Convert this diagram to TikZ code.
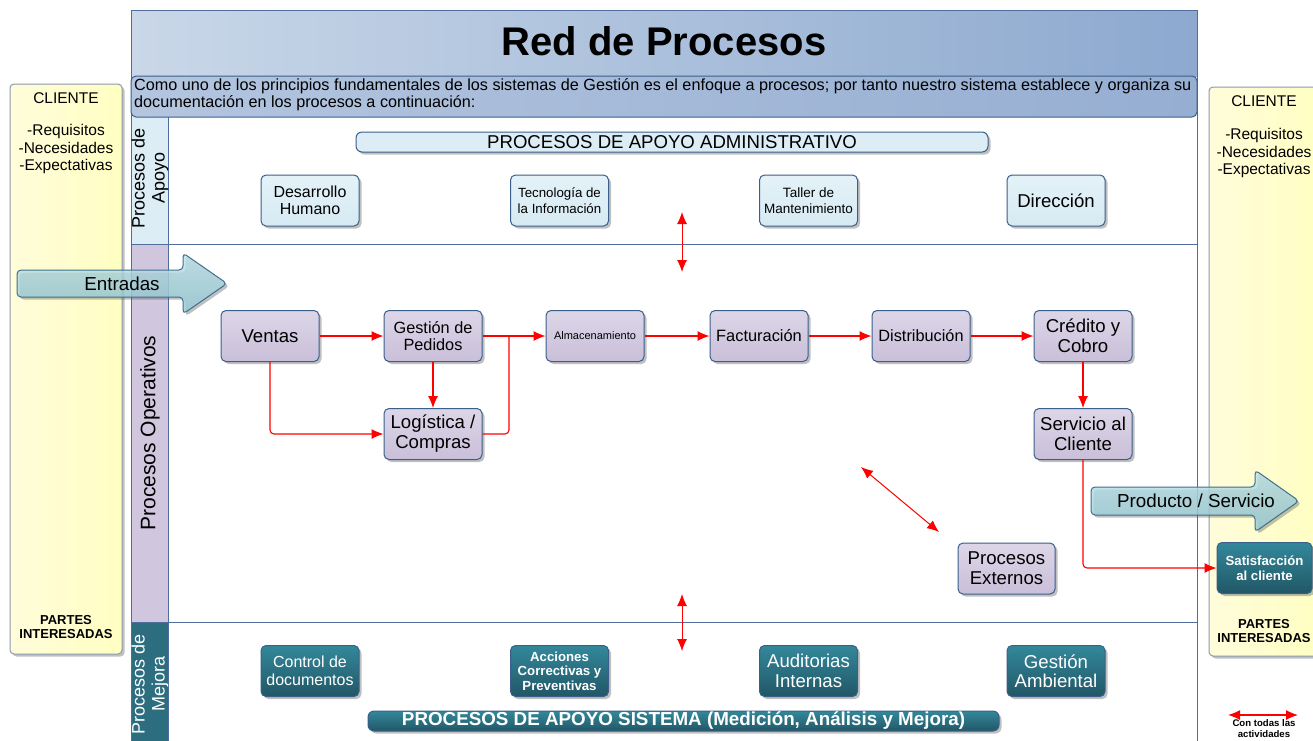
\documentclass[tikz,border=0pt]{standalone}
\usepackage{fontspec}
\setmainfont{Liberation Sans}
\usetikzlibrary{arrows.meta,shadows}

\definecolor{bordc}{HTML}{3A5F8B}
\definecolor{framec}{HTML}{4F6E9C}
\definecolor{titleL}{HTML}{C9D7E8}
\definecolor{titleR}{HTML}{8DA9CF}
\definecolor{descL}{HTML}{B3C5DF}
\definecolor{descR}{HTML}{96AED2}
\definecolor{apBand}{HTML}{DCEDF5}
\definecolor{apTop}{HTML}{E4F2F8}
\definecolor{apBot}{HTML}{D6EAF3}
\definecolor{opBand}{HTML}{D0C7DE}
\definecolor{opTop}{HTML}{DDD6E8}
\definecolor{opBot}{HTML}{C9BFD9}
\definecolor{mjBand}{HTML}{2C6E7F}
\definecolor{mjTop}{HTML}{33889B}
\definecolor{mjBot}{HTML}{215766}
\definecolor{yelL}{HTML}{FFFCDA}
\definecolor{yelR}{HTML}{FFFFC2}
\definecolor{yelB}{HTML}{8C9AAE}
\definecolor{arTop}{HTML}{BEE3EA}
\definecolor{arBot}{HTML}{93C9D5}
\definecolor{arB}{HTML}{3F6F8C}

\newcommand\fsz[2]{\fontsize{#1}{#2}\selectfont}

\tikzset{
  shadowed/.style={drop shadow={shadow xshift=2.5pt, shadow yshift=-2.5pt, opacity=.35, fill=black!70}},
  procbox/.style={draw=bordc, line width=1pt, rounded corners=5pt, align=center,
    inner sep=1pt, minimum width=98pt, minimum height=51pt, shadowed},
  apbox/.style={procbox, top color=apTop, bottom color=apBot},
  opbox/.style={procbox, top color=opTop, bottom color=opBot},
  mjbox/.style={procbox, top color=mjTop, bottom color=mjBot, text=white},
  bar/.style={draw=bordc, line width=1pt, rounded corners=6pt, minimum height=20pt,
    inner sep=0pt, shadowed},
  panel/.style={draw=yelB, line width=1pt, rounded corners=4pt, left color=yelL,
    right color=yelR, shadowed},
  bigarrow/.style={draw=arB, line width=1pt, rounded corners=4pt, top color=arTop,
    bottom color=arBot, fill opacity=.8, shadowed},
  flow/.style={draw=red, line width=1.1pt, -{Latex[length=12pt,width=10pt]}},
  redline/.style={draw=red, line width=1.1pt},
  both/.style={draw=red, line width=1pt,
    {Latex[length=12pt,width=10pt]}-{Latex[length=12pt,width=10pt]}},
  lbl/.style={inner sep=0pt, align=center},
}

\begin{document}
\begin{tikzpicture}[x=1pt,y=-1pt]
\clip (0,0) rectangle (1313,740);
\fill[white] (0,0) rectangle (1313,740);

% side panels for the client and interested parties
\node[panel, minimum width=112pt, minimum height=570pt] (cliL) at (66,369) {};
\node[panel, minimum width=112pt, minimum height=569pt] (cliR) at (1265,371.5) {};

\node[lbl, font=\fsz{15.5}{17}] (cliLt) at (66,98) {CLIENTE};
\node[lbl, font=\fsz{15.5}{17.5}] (cliLr) at (66,149) {-Requisitos\\-Necesidades\\-Expectativas};
\node[lbl, font=\bfseries\fsz{13}{14}] (cliLp) at (66,627) {PARTES\\INTERESADAS};

\node[lbl, font=\fsz{15.5}{17}] (cliRt) at (1264,101) {CLIENTE};
\node[lbl, font=\fsz{15.5}{17.5}] (cliRr) at (1264,153) {-Requisitos\\-Necesidades\\-Expectativas};
\node[lbl, font=\bfseries\fsz{13}{14}] (cliRp) at (1264,631) {PARTES\\INTERESADAS};

% main frame with its header
\shade[left color=titleL, right color=titleR] (131,10) rectangle (1197,76);
\fill[apBand] (131,117) rectangle (168,244);
\fill[opBand] (131,244) rectangle (168,622);
\fill[mjBand] (131,622) rectangle (168,745);
\draw[framec, line width=1pt] (131,10) rectangle (1197,745);
\draw[framec, line width=1pt] (131,244) -- (1197,244);
\draw[framec, line width=1pt] (131,622) -- (1197,622);
\draw[framec, line width=1pt] (168,117) -- (168,745);

\node[lbl, font=\bfseries\fsz{40}{44}] (title) at (664,41) {Red de Procesos};

\node[draw=bordc, line width=1pt, rounded corners=5pt, left color=descL, right color=descR,
      minimum width=1066pt, minimum height=41pt, inner sep=0pt] (desc) at (664,96.5) {};
\node[lbl, align=left, anchor=west, font=\fsz{16.2}{16.5}] (desct) at (134,94.5)
  {Como uno de los principios fundamentales de los sistemas de Gestión es el enfoque a procesos; por tanto nuestro sistema establece y organiza su\\documentación en los procesos a continuación:};

% lane titles
\node[lbl, rotate=90, font=\fsz{18}{20}] (laneA) at (150,178) {Procesos de\\Apoyo};
\node[lbl, rotate=90, font=\fsz{21}{23}] (laneO) at (150,433) {Procesos Operativos};
\node[lbl, rotate=90, font=\fsz{18}{20}, text=white] (laneM) at (150,684) {Procesos de\\Mejora};

% support processes
\node[bar, fill=apBand, minimum width=632pt, font=\fsz{18.6}{20}] (apbar) at (672,142) {PROCESOS DE APOYO ADMINISTRATIVO};
\node[apbox, font=\fsz{16}{17}] (desarrollo) at (310,200.5) {Desarrollo\\Humano};
\node[apbox, font=\fsz{13.3}{16}] (tecno) at (559.5,200.5) {Tecnología de\\la Información};
\node[apbox, font=\fsz{13.5}{16}] (taller) at (808.5,200.5) {Taller de\\Mantenimiento};
\node[apbox, font=\fsz{18.6}{20}] (direccion) at (1056,200.5) {Dirección};

% operational processes
\node[opbox, font=\fsz{18.6}{20}] (ventas) at (270,336) {Ventas};
\node[opbox, font=\fsz{16.3}{17}] (gestion) at (433,336) {Gestión de\\Pedidos};
\node[opbox, font=\fsz{11}{13}] (almac) at (595,336) {Almacenamiento};
\node[opbox, font=\fsz{16.4}{18}] (factur) at (759,336) {Facturación};
\node[opbox, font=\fsz{16.3}{18}] (distrib) at (921,336) {Distribución};
\node[opbox, font=\fsz{18.6}{20}] (credito) at (1083,336) {Crédito y\\Cobro};
\node[opbox, font=\fsz{18.6}{20}] (logist) at (433,434) {Logística /\\Compras};
\node[opbox, font=\fsz{18.6}{20}] (servicio) at (1083,434) {Servicio al\\Cliente};
\node[opbox, minimum width=97pt, font=\fsz{18.6}{20}] (externos) at (1006.5,568.5) {Procesos\\Externos};

% improvement processes
\node[mjbox, font=\fsz{16}{18}] (control) at (310,671) {Control de\\documentos};
\node[mjbox, font=\bfseries\fsz{13.2}{14.5}] (acciones) at (559.5,671) {Acciones\\Correctivas y\\Preventivas};
\node[mjbox, font=\fsz{18.6}{19.5}] (auditorias) at (808.5,671) {Auditorias\\Internas};
\node[mjbox, font=\fsz{18.6}{19.5}] (gambiental) at (1056,671) {Gestión\\Ambiental};
\node[bar, top color=mjTop, bottom color=mjBot, minimum width=631pt, text=white,
      font=\bfseries\fsz{18.8}{20}] (mjbar) at (683.5,721) {PROCESOS DE APOYO SISTEMA (Medición, Análisis y Mejora)};

\node[mjbox, minimum width=95pt, font=\bfseries\fsz{13.2}{14.5}] (satis) at (1264.5,568) {Satisfacción\\al cliente};

% input and output arrows
\path[bigarrow] (17,270) -- (183,270) -- (183,253) -- (227,283.5) -- (183,314) -- (183,297) -- (17,297) -- cycle;
\node[lbl, font=\fsz{18.8}{20}] (entradas) at (122,283.5) {Entradas};
\path[bigarrow] (1091,487) -- (1255,487) -- (1255,470) -- (1299,501) -- (1255,532) -- (1255,515) -- (1091,515) -- cycle;
\node[lbl, font=\fsz{18.8}{20}] (producto) at (1196,501) {Producto / Servicio};

% process flow
\coordinate (join) at (509,336);
\draw[flow] (ventas) -- (gestion);
\draw[flow] (gestion) -- (almac);
\draw[flow] (gestion) -- (logist);
\draw[flow, rounded corners=4pt] (ventas.south) |- (logist.west);
\draw[redline, rounded corners=4pt] (logist.east) -| (join);
\draw[flow] (almac) -- (factur);
\draw[flow] (factur) -- (distrib);
\draw[flow] (distrib) -- (credito);
\draw[flow] (credito) -- (servicio);
\draw[flow, rounded corners=4pt] (servicio.south) |- (satis.west);

% links with all activities
\coordinate (upA) at (682,212);
\coordinate (upB) at (682,272);
\coordinate (dnA) at (682,594);
\coordinate (dnB) at (682,651);
\coordinate (exA) at (861,467);
\coordinate (exB) at (939,532);
\draw[both] (upA) -- (upB);
\draw[both] (dnA) -- (dnB);
\draw[both] (exA) -- (exB);

% legend
\coordinate (lgA) at (1228,715);
\coordinate (lgB) at (1298,715);
\draw[both, line width=1.2pt] (lgA) -- (lgB);
\node[lbl, font=\bfseries\fsz{9.6}{11}] (lgT) at (1264,728.5) {Con todas las\\actividades};
\end{tikzpicture}
\end{document}
